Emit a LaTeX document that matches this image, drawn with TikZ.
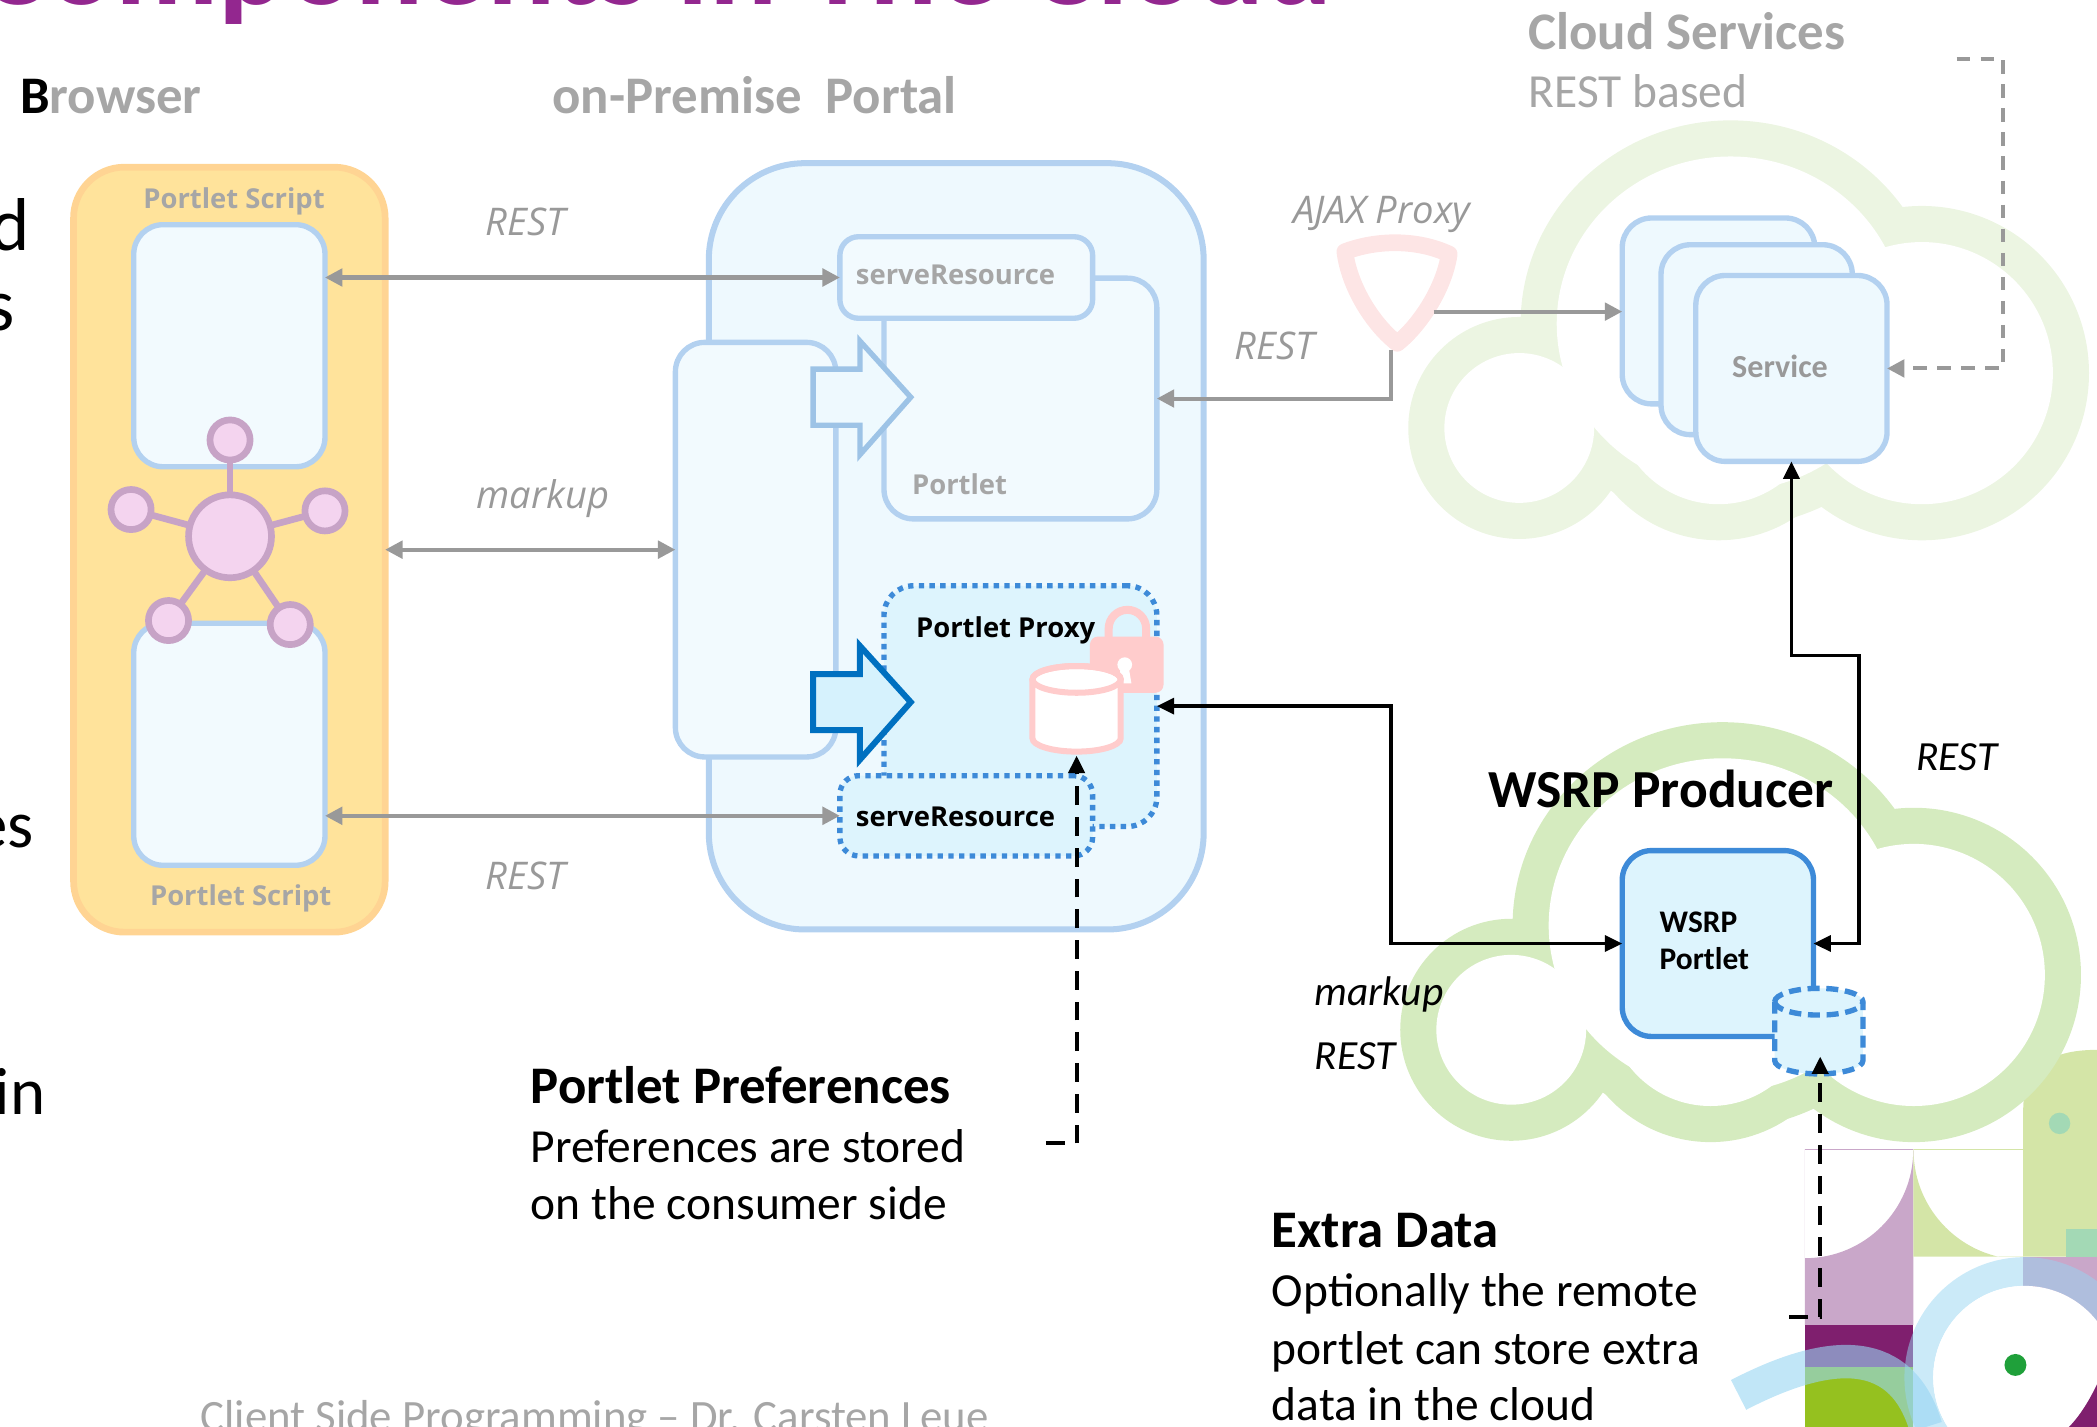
\documentclass[tikz,border=0pt]{standalone}
\usepackage{fontspec}
\setmainfont{Carlito}
\newfontfamily\segoe{Open Sans}
\usetikzlibrary{arrows.meta}

\definecolor{titlepurple}{HTML}{93278F}
\definecolor{labelgray}{HTML}{A6A6A6}
\definecolor{linegray}{HTML}{999999}
\definecolor{boxblue}{HTML}{B3D1F0}
\definecolor{boxfill}{HTML}{F2FAFE}
\definecolor{portalfill}{HTML}{EEF9FE}
\definecolor{proxyblue}{HTML}{3D8AD8}
\definecolor{proxyfill}{HTML}{DDF4FD}
\definecolor{browserfill}{HTML}{FFE39B}
\definecolor{browserline}{HTML}{FFD493}
\definecolor{hubfill}{HTML}{F4D4EF}
\definecolor{hubline}{HTML}{C7A3C6}
\definecolor{lockpink}{HTML}{FFCCCC}
\definecolor{shieldpink}{HTML}{FDE5E5}
\definecolor{cloudpale}{HTML}{ECF5E2}
\definecolor{cloudgreen}{HTML}{D5EBBF}
\definecolor{arrowblue}{HTML}{0070C0}
\definecolor{arrowfill}{HTML}{D6F2FD}
\definecolor{lightarrow}{HTML}{9DC3E6}
\definecolor{logolilac}{HTML}{C9A7C9}
\definecolor{logolime}{HTML}{D4E5A7}
\definecolor{logoteal}{HTML}{A3D9B5}
\definecolor{logoplum}{HTML}{7F1F6E}
\definecolor{logoleaf}{HTML}{95C11F}
\definecolor{logosky}{HTML}{97D5F2}
\definecolor{logodot}{HTML}{1FA03A}

% cloud = thick ring round the union of a few puffs
\newcommand\cloudring[2]{%
  \begin{scope}[shift={#2}]
    \foreach \cx/\cy/\rx/\ry in {1136/320/56/56,1294/242/130/125,1437/279/98/98,1285/300/77/77}
      \draw[#1, line width=54pt] (\cx,\cy) ellipse [x radius=\rx, y radius=\ry];
    \foreach \cx/\cy/\rx/\ry in {1136/320/56/56,1294/242/130/125,1437/279/98/98,1285/300/77/77}
      \fill[white] (\cx,\cy) ellipse [x radius=\rx, y radius=\ry];
  \end{scope}}

\begin{document}
\begin{tikzpicture}
[x=1pt, y=-1pt,
 every node/.style={inner sep=0pt, outer sep=0pt},
 winbox/.style={draw=boxblue, fill=boxfill, line width=4pt, rounded corners=22pt},
 dotbox/.style={draw=proxyblue, fill=proxyfill, line width=4pt, dash pattern=on 4pt off 4pt, rounded corners=22pt},
 hubnode/.style={circle, draw=hubline, fill=hubfill, line width=5pt},
 greyline/.style={draw=linegray, line width=3pt, >={Triangle[length=13pt,width=13pt]}},
 blackline/.style={draw=black, line width=2.5pt, >={Triangle[length=13pt,width=12pt]}},
 dashline/.style={blackline, line width=3pt, dash pattern=on 14pt off 9pt},
 headline/.style={anchor=base west, font=\fontsize{39.5}{44}\selectfont\bfseries},
 bodyline/.style={anchor=base west, font=\fontsize{35.5}{43}\selectfont},
 boxlabel/.style={anchor=base west, text=labelgray, font=\segoe\bfseries\fontsize{20.5}{24}\selectfont},
 greyital/.style={anchor=base, text=linegray, font=\segoe\itshape\fontsize{28.5}{32}\selectfont},
 blackital/.style={anchor=base west, font=\itshape\fontsize{31}{34}\selectfont}]

\useasboundingbox (0,0) rectangle (1568,1067);
\clip (0,0) rectangle (1568,1067);

% corner logo
\begin{scope}
  \clip (1349.6,859.8) rectangle (1430.6,990.7);
  \fill[logolilac, even odd rule] (1349.6,859.8) rectangle (1430.6,990.7) (1349.6,859.8) circle (81);
\end{scope}
\begin{scope}
  \clip (1430.6,859.8) rectangle (1512.8,939.6);
  \fill[logolime, even odd rule] (1430.6,859.8) rectangle (1512.8,939.6) (1512.8,859.8) circle (82);
\end{scope}
\fill[logolime] (1512.8,939.6) -- (1512.8,830) .. controls (1512.8,800) and (1530,785) .. (1568,785) -- (1568,939.6) -- cycle;
\fill[logoteal] (1540,840) circle (8);
\fill[logoteal] (1545,919) rectangle (1568,940);
\fill[logolilac] (1512.8,939.6) rectangle (1568,990.7);
\fill[logoplum] (1349.6,990.7) rectangle (1430.6,1021.8);
\fill[logoleaf] (1349.6,1021.8) rectangle (1430.6,1067);
\fill[logosky, opacity=0.5, even odd rule] (1514,1030) circle (90) (1514,1030) circle (68.5);
\fill[white] (1514,1030) circle (68.5);
\fill[logoplum] (1568,1035) .. controls (1560,1052) and (1552,1062) .. (1547,1067) -- (1568,1067) -- cycle;
\fill[logodot] (1507,1020.6) circle (8.2);
\draw[logosky, opacity=0.6, line width=25pt] (1300,1043) .. controls (1360,1012) and (1420,1000) .. (1440,1067);

% the two clouds
\cloudring{cloudpale}{(0,0)}
\cloudring{cloudgreen}{(-6,450)}

% title and cut-off slide text
\node[anchor=base west, text=titlepurple, font=\fontsize{95}{100}\selectfont\bfseries] (title) at (-15,3) {Components in The Cloud};
\node[anchor=base east, font=\fontsize{56}{60}\selectfont] (cutd) at (22,187) {d};
\node[anchor=base east, font=\fontsize{56}{60}\selectfont] (cuts) at (11,247) {s};
\node[anchor=base east, font=\fontsize{50}{60}\selectfont] (cutes) at (25,634) {es};
\node[anchor=base east, font=\fontsize{50}{60}\selectfont] (cutin) at (34,833) {in};
\node[anchor=base west, text=labelgray, font=\fontsize{33.5}{36}\selectfont] (footer) at (150,1070) {Client Side Programming -- Dr. Carsten Leue};

% column headings
\node[headline, text=labelgray] (browserhead) at (15,85) {\textcolor{black}{B}rowser};
\node[headline, text=labelgray] (portalhead) at (413,85) {on-Premise\ \ Portal};
\node[headline, text=labelgray] (cloudhead) at (1143,37) {Cloud Services};
\node[bodyline, text=labelgray] (cloudsub) at (1143,80.5) {REST based};

% browser with two portlet scripts
\node[draw=browserline, fill=browserfill, line width=5pt, rounded corners=38pt,
  minimum width=233, minimum height=572] (browser) at (171.5,411) {};
\node[winbox, minimum width=143, minimum height=181] (scripttop) at (171.5,258.5) {};
\node[winbox, minimum width=143, minimum height=181] (scriptbot) at (171.5,556.5) {};
\node[boxlabel, anchor=base] (scripttoplbl) at (175,156) {Portlet Script};
\node[boxlabel, anchor=base] (scriptbotlbl) at (180,677) {Portlet Script};

% event hub
\node[hubnode, minimum size=62] (hub) at (172,401) {};
\foreach \sx/\sy [count=\i] in {172/329, 98/381, 243/382, 126/464, 217/467}
  \node[hubnode, minimum size=30] (sat\i) at (\sx,\sy) {};
\foreach \i in {1,...,5}
  \draw[hubline, line width=5pt] (hub) -- (sat\i);

% portal
\node[draw=boxblue, fill=portalfill, line width=4.5pt, rounded corners=72pt,
  minimum width=370, minimum height=573] (portal) at (715,408.5) {};
\node[winbox, minimum width=120, minimum height=310] (aggregator) at (565,411) {};
\node[winbox, minimum width=204, minimum height=180] (portlet) at (763,298) {};
\node[winbox, rounded corners=14pt, minimum width=189, minimum height=61] (servetop) at (722.5,207.5) {};
\node[boxlabel] (servetoplbl) at (640,213) {serveResource};
\node[boxlabel] (portletlbl) at (682,370) {Portlet};
\draw[lightarrow, fill=portalfill, line width=4pt, line join=miter]
  (608,276) -- (643,276) -- (643,255) -- (681,297) -- (643,340) -- (643,318) -- (608,318) -- cycle;

\node[dotbox, minimum width=204, minimum height=180] (proxy) at (763,528) {};
\node[dotbox, rounded corners=14pt, minimum width=189, minimum height=60] (servebot) at (722.5,610) {};
\node[boxlabel, text=black] (servebotlbl) at (640,618) {serveResource};
\node[boxlabel, text=black] (proxylbl) at (685,477) {Portlet Proxy};
\draw[arrowblue, fill=arrowfill, line width=4.5pt, line join=miter]
  (608,504) -- (643,504) -- (643,483) -- (681,525) -- (643,568) -- (643,546) -- (608,546) -- cycle;

% lock and preference store
\draw[lockpink, line width=6pt] (829,480) -- (829,470) arc[start angle=180, end angle=360, radius=14] -- (857,480);
\fill[lockpink, rounded corners=6pt] (815,476) rectangle (870,518);
\fill[white] (841,497) circle (5.5);
\fill[white] (838,499) -- (844,499) -- (846,511) -- (836,511) -- cycle;
\filldraw[draw=lockpink, fill=white, line width=4.5pt]
  (772,508) -- (772,552) arc[start angle=180, end angle=0, x radius=33, y radius=10]
  -- (838,508) arc[start angle=0, end angle=-180, x radius=33, y radius=10] -- cycle;
\draw[lockpink, line width=4.5pt] (805,508) ellipse [x radius=33, y radius=10];
\coordinate (prefdb) at (805,565);

% AJAX proxy
\draw[shieldpink, line width=12.5pt, line join=round]
  (1005.6,188.2) .. controls (1030,179) and (1060,179) .. (1083.6,190)
  .. controls (1080,215) and (1062,243) .. (1044.8,256.7)
  .. controls (1027,243) and (1009,215) .. cycle;
\coordinate (shieldtip) at (1040,262);
\coordinate (shieldout) at (1072,233);
\node[greyital] (ajaxlbl) at (1033,167) {AJAX Proxy};

% cloud services
\node[winbox, fill=portalfill, minimum width=144, minimum height=139] (svcA) at (1285,232.5) {};
\node[winbox, fill=portalfill, minimum width=143, minimum height=142] (svcB) at (1313.5,254) {};
\node[winbox, fill=portalfill, minimum width=143, minimum height=139] (svcC) at (1339.5,275.5) {};
\node[anchor=base, text=linegray, font=\fontsize{24}{28}\selectfont\bfseries] (svclbl) at (1331,282) {Service};

% WSRP producer
\node[font=\fontsize{40}{44}\selectfont\bfseries] (producer) at (1242,590) {WSRP Producer};
\node[draw=proxyblue, fill=proxyfill, line width=4pt, rounded corners=22pt,
  minimum width=143, minimum height=139] (wsrp) at (1284.5,705.5) {};
\node[anchor=base west, font=\fontsize{23.5}{28}\selectfont\bfseries] (wsrplbl) at (1241,697) {WSRP};
\node[anchor=base west, font=\fontsize{23.5}{28}\selectfont\bfseries] (wsrplbl2) at (1241,725) {Portlet};
\filldraw[draw=proxyblue, fill=proxyfill, line width=4pt, dash pattern=on 9pt off 5pt]
  (1327,749) -- (1327,793) arc[start angle=180, end angle=0, x radius=33, y radius=10]
  -- (1393,749) arc[start angle=0, end angle=-180, x radius=33, y radius=10] -- cycle;
\draw[proxyblue, line width=4pt, dash pattern=on 9pt off 5pt]
  (1327,749) arc[start angle=180, end angle=0, x radius=33, y radius=10];
\coordinate (extradb) at (1361,790);

% connectors browser <-> portal
\draw[greyline, <->] (scripttop.east |- servetop.west) -- (servetop.west);
\draw[greyline, <->] (browser.east) -- (aggregator.west);
\draw[greyline, <->] (scriptbot.east |- servebot.west) -- (servebot.west);
\node[greyital] (resttoplbl) at (393,176) {REST};
\node[greyital] (markuplbl) at (406,380) {markup};
\node[greyital] (restbotlbl) at (393,665) {REST};

% connectors to the cloud
\draw[greyline, ->] (shieldout) -- (svcA.west |- shieldout);
\draw[greyline, ->] (shieldtip) |- (portlet.east);
\node[greyital] (restajaxlbl) at (953,269) {REST};
\draw[greyline, dash pattern=on 10pt off 8pt, ->] (1463,44) -- (1498,44) |- (svcC.east);

\coordinate (markupbend) at (1040,600);
\coordinate (restbend) at (1390,490);
\draw[blackline, <->] (proxy.east) -| (markupbend) |- (wsrp.west);
\draw[blackline, <->] (svcC.south) |- (restbend) |- (wsrp.east);
\node[blackital] (restwsrplbl) at (1433,576) {REST};
\node[blackital] (markupwsrplbl) at (983,752) {markup};
\node[blackital] (restwsrplbl2) at (983,800) {REST};

% notes
\coordinate (prefnote) at (782,855);
\coordinate (extranote) at (1338,985);
\draw[dashline, ->] (prefnote) -| (prefdb);
\draw[dashline, ->] (extranote) -| (extradb);

\node[headline] (prefhead) at (397,825) {Portlet Preferences};
\node[bodyline] (preftext1) at (397,869) {Preferences are stored};
\node[bodyline] (preftext2) at (397,912) {on the consumer side};
\node[headline] (extrahead) at (951,933) {Extra Data};
\node[bodyline] (extratext1) at (951,977) {Optionally the remote};
\node[bodyline] (extratext2) at (951,1020) {portlet can store extra};
\node[bodyline] (extratext3) at (951,1062) {data in the cloud};
\end{tikzpicture}
\end{document}
